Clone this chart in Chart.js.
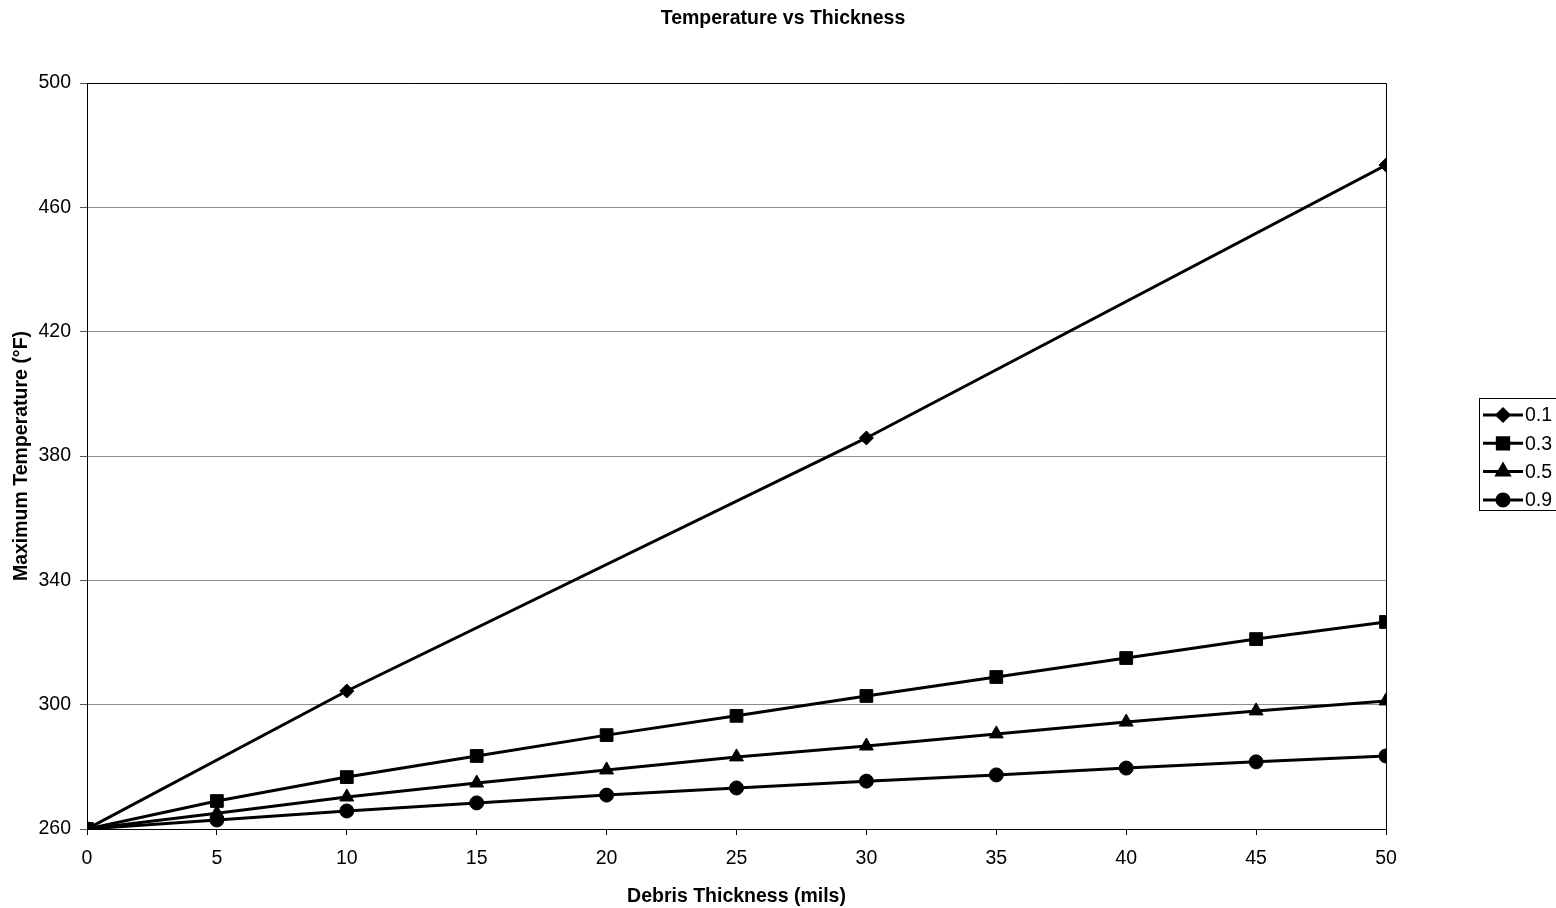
<!DOCTYPE html>
<html>
<head>
<meta charset="utf-8">
<title>Temperature vs Thickness</title>
<script src="https://cdn.jsdelivr.net/npm/chart.js@4.4.1/dist/chart.umd.min.js"></script>
<style>
  html, body { margin: 0; padding: 0; background: #fff; }
  #wrap { width: 1556px; height: 908px; position: relative; }
</style>
</head>
<body>
<div id="wrap"><canvas id="chart"></canvas></div>
<script>
// Debris thickness (mils) for the full-resolution series
const thickness = [0, 5, 10, 15, 20, 25, 30, 35, 40, 45, 50];
// The 0.1 series was only computed at these thicknesses
const thicknessSparse = [0, 10, 30, 50];

// Maximum temperature (°F) for each emissivity
const temp01 = [260, 304.4, 385.8, 473.6];
const temp03 = [260, 269.0, 276.7, 283.5, 290.2, 296.4, 302.8, 308.9, 315.0, 321.1, 326.6];
const temp05 = [260, 265.1, 270.3, 274.8, 279.0, 283.2, 286.7, 290.6, 294.4, 298.0, 301.2];
const temp09 = [260, 262.9, 265.8, 268.4, 270.9, 273.2, 275.4, 277.4, 279.6, 281.6, 283.5];

const seriesLabels = ['0.1', '0.3', '0.5', '0.9'];
const yTicks = [260, 300, 340, 380, 420, 460, 500];
const xTicks = [0, 5, 10, 15, 20, 25, 30, 35, 40, 45, 50];

const chartTitle = 'Temperature vs Thickness';

const FONT = "'Liberation Sans', Arial, Helvetica, sans-serif";
const FONT_SIZE = 19.5;

function pairs(xs, ys) {
  return xs.map((x, i) => ({ x: x, y: ys[i] }));
}

function series(label, xs, ys, style, radius) {
  return {
    label: label,
    data: pairs(xs, ys),
    showLine: true,
    borderColor: '#000',
    backgroundColor: '#000',
    borderWidth: 3,
    tension: 0,
    pointStyle: style,
    pointRadius: radius,
    pointHoverRadius: radius,
    pointBackgroundColor: '#000',
    pointBorderColor: '#000',
    pointBorderWidth: 1
  };
}

// Frame around the plot area plus the page-centred title
const plotFrame = {
  id: 'plotFrame',
  afterDatasetsDraw(chart) {
    const a = chart.chartArea;
    const ctx = chart.ctx;
    ctx.save();
    ctx.strokeStyle = '#000';
    ctx.lineWidth = 1;
    ctx.beginPath();
    ctx.moveTo(Math.round(a.left) + 0.5, Math.round(a.top) + 0.5);
    ctx.lineTo(Math.round(a.right) + 0.5, Math.round(a.top) + 0.5);
    ctx.lineTo(Math.round(a.right) + 0.5, Math.round(a.bottom) + 0.5);
    ctx.stroke();

    ctx.font = 'bold ' + FONT_SIZE + 'px ' + FONT;
    ctx.fillStyle = '#000';
    ctx.textAlign = 'center';
    ctx.textBaseline = 'middle';
    ctx.fillText(chartTitle, 783, 19);
    ctx.restore();
  }
};

// Boxed legend with line-and-marker samples
const boxLegend = {
  id: 'boxLegend',
  afterDraw(chart) {
    const ctx = chart.ctx;
    const left = 1479, top = 398, width = 90, rowH = 28.3;
    const first = 415;
    ctx.save();
    ctx.strokeStyle = '#000';
    ctx.lineWidth = 1;
    ctx.strokeRect(left + 0.5, top + 0.5, width, 112);
    ctx.font = FONT_SIZE + 'px ' + FONT;
    ctx.fillStyle = '#000';
    ctx.textBaseline = 'middle';
    ctx.textAlign = 'left';
    chart.data.datasets.forEach((ds, i) => {
      const y = first + i * rowH;
      ctx.strokeStyle = '#000';
      ctx.lineWidth = 3;
      ctx.beginPath();
      ctx.moveTo(1483, y);
      ctx.lineTo(1523, y);
      ctx.stroke();
      Chart.helpers.drawPoint(ctx, {
        pointStyle: ds.pointStyle,
        radius: ds.pointRadius - 1,
        rotation: 0,
        borderWidth: 1
      }, 1503, y);
      ctx.fillStyle = '#000';
      ctx.fill();
      ctx.fillText(ds.label, 1525, y + 1);
    });
    ctx.restore();
  }
};

new Chart(document.getElementById('chart'), {
  type: 'scatter',
  data: {
    datasets: [
      series(seriesLabels[0], thicknessSparse, temp01, 'rectRot', 7),
      series(seriesLabels[1], thickness, temp03, 'rect', 9),
      series(seriesLabels[2], thickness, temp05, 'triangle', 8),
      series(seriesLabels[3], thickness, temp09, 'circle', 7)
    ]
  },
  options: {
    responsive: true,
    maintainAspectRatio: false,
    animation: false,
    events: [],
    layout: { padding: { left: 0, right: 170, top: 83, bottom: 0 } },
    plugins: {
      legend: { display: false },
      tooltip: { enabled: false },
      title: { display: false }
    },
    scales: {
      x: {
        type: 'linear',
        min: 0,
        max: 50,
        afterFit(scale) { scale.height = 79; },
        afterBuildTicks(scale) { scale.ticks = xTicks.map(v => ({ value: v })); },
        grid: {
          drawOnChartArea: false,
          drawTicks: true,
          tickLength: 6,
          tickColor: '#000'
        },
        border: { display: true, color: '#000', width: 1 },
        ticks: {
          color: '#000',
          padding: 12,
          maxRotation: 0,
          font: { family: FONT, size: FONT_SIZE }
        },
        title: {
          display: true,
          text: 'Debris Thickness (mils)',
          color: '#000',
          font: { family: FONT, size: FONT_SIZE, weight: 'bold' },
          padding: { top: 9, bottom: 0 }
        }
      },
      y: {
        type: 'linear',
        min: 260,
        max: 500,
        afterFit(scale) { scale.width = 87; },
        afterBuildTicks(scale) { scale.ticks = yTicks.map(v => ({ value: v })); },
        grid: {
          color: '#8c8c8c',
          lineWidth: 1,
          drawTicks: true,
          tickLength: 7,
          tickColor: '#555'
        },
        border: { display: true, color: '#000', width: 1 },
        ticks: {
          color: '#000',
          padding: 9,
          font: { family: FONT, size: FONT_SIZE }
        },
        title: {
          display: true,
          text: 'Maximum Temperature (°F)',
          color: '#000',
          font: { family: FONT, size: FONT_SIZE, weight: 'bold' },
          padding: { top: 10, bottom: 0 }
        }
      }
    }
  },
  plugins: [plotFrame, boxLegend]
});
</script>
</body>
</html>
